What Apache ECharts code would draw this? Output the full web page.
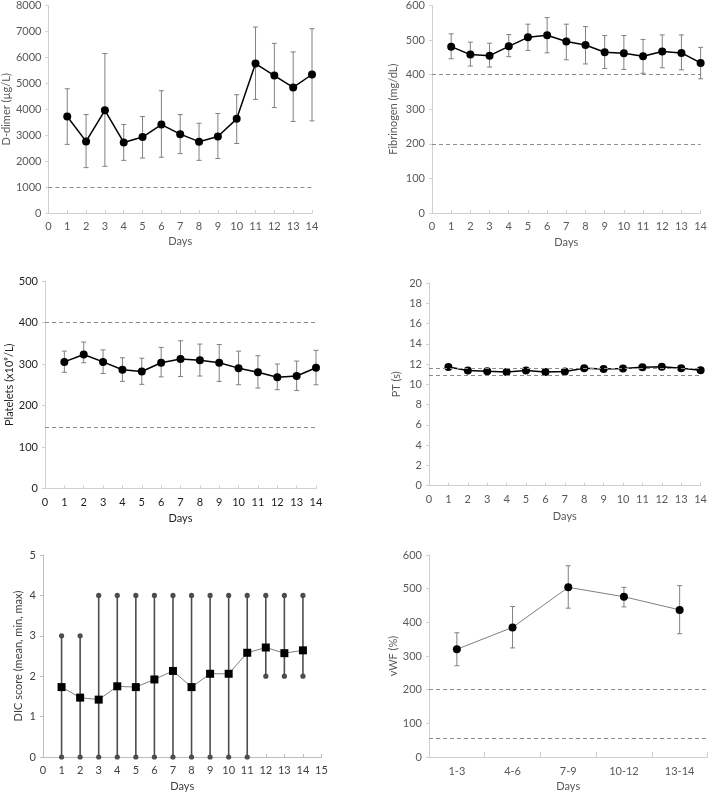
<!DOCTYPE html>
<html>
<head>
<meta charset="utf-8">
<script src="https://cdn.jsdelivr.net/npm/echarts@6/dist/echarts.min.js"></script>
<style>
html,body{margin:0;padding:0;background:#fff;}
#chart{width:710px;height:793px;}
</style>
</head>
<body>
<div id="chart"></div>
<script>
// ---------- data ----------
const days = [1,2,3,4,5,6,7,8,9,10,11,12,13,14];

const ddimerMean = [3720,2760,3960,2720,2930,3410,3040,2750,2950,3630,5760,5300,4840,5340];
const ddimerLow  = [2645,1750,1800,2030,2120,2150,2290,2030,2100,2680,4380,4065,3530,3550];
const ddimerHigh = [4790,3795,6150,3410,3720,4715,3795,3460,3835,4560,7170,6540,6210,7105];
const ddimerRef  = [1000];

const fibMean = [481,458,455,482,508,514,496,486,465,462,453,467,463,434];
const fibLow  = [446,425,422,452,470,463,443,431,418,415,404,420,414,388];
const fibHigh = [518,494,491,516,546,565,546,539,513,513,502,515,515,479];
const fibRef  = [400,200];

const pltMean = [305,323,305,286,282,303,312,309,303,290,280,268,271,291];
const pltLow  = [280,303,277,258,251,269,270,271,258,250,242,238,236,250];
const pltHigh = [331,353,334,315,314,340,356,348,347,331,320,300,307,333];
const pltRef  = [400,148];

const ptMean = [11.70,11.35,11.28,11.22,11.35,11.22,11.25,11.58,11.51,11.55,11.68,11.74,11.58,11.38];
const ptLow  = [11.50,11.20,11.15,11.10,11.20,11.10,11.10,11.40,11.35,11.35,11.45,11.55,11.45,11.25];
const ptHigh = [11.95,11.50,11.42,11.35,11.50,11.35,11.40,11.75,11.68,11.78,11.95,11.93,11.72,11.52];
const ptRef  = [11.6,10.9];

const dicMean = [1.73,1.47,1.42,1.75,1.73,1.92,2.13,1.73,2.06,2.06,2.58,2.71,2.57,2.64];
const dicMin  = [0,0,0,0,0,0,0,0,0,0,0,2,2,2];
const dicMax  = [3,3,4,4,4,4,4,4,4,4,4,4,4,4];

const vwfCats = ['1-3','4-6','7-9','10-12','13-14'];
const vwfMean = [320,385,504,476,437];
const vwfLow  = [271,324,442,446,366];
const vwfHigh = [369,447,568,504,509];
const vwfRef  = [200,55];

// ---------- helpers ----------
const FONT = 'Lato';
const FS = 11;
function pairs(xs, ys){ return xs.map((x,i)=>[x, ys[i]]); }
function triples(xs, a, b){ return xs.map((x,i)=>[x, a[i], b[i]]); }

function errBar(idx, data, color, cap){
  return {
    type:'custom', xAxisIndex:idx, yAxisIndex:idx, z:2,
    data:data,
    renderItem:function(params, api){
      const x = api.value(0);
      const lo = api.coord([x, api.value(1)]);
      const hi = api.coord([x, api.value(2)]);
      const st = {stroke:color, lineWidth:1};
      const ch = [
        {type:'line', shape:{x1:lo[0],y1:lo[1],x2:hi[0],y2:hi[1]}, style:st},
        {type:'line', shape:{x1:lo[0]-cap,y1:lo[1],x2:lo[0]+cap,y2:lo[1]}, style:st},
        {type:'line', shape:{x1:hi[0]-cap,y1:hi[1],x2:hi[0]+cap,y2:hi[1]}, style:st}
      ];
      return {type:'group', children:ch};
    },
    silent:true
  };
}

function rangeBar(idx, data, color){
  return {
    type:'custom', xAxisIndex:idx, yAxisIndex:idx, z:2,
    data:data,
    renderItem:function(params, api){
      const x = api.value(0);
      const lo = api.coord([x, api.value(1)]);
      const hi = api.coord([x, api.value(2)]);
      return {type:'group', children:[
        {type:'line', shape:{x1:lo[0],y1:lo[1],x2:hi[0],y2:hi[1]}, style:{stroke:color, lineWidth:1.6}},
        {type:'circle', shape:{cx:lo[0],cy:lo[1],r:2.6}, style:{fill:color}},
        {type:'circle', shape:{cx:hi[0],cy:hi[1],r:2.6}, style:{fill:color}}
      ]};
    },
    silent:true
  };
}

function refLines(idx, vals){
  return {
    type:'line', xAxisIndex:idx, yAxisIndex:idx, data:[], silent:true,
    markLine:{
      symbol:['none','none'], silent:true, label:{show:false},
      lineStyle:{color:'#8c8c8c', type:[4,3], width:1},
      animation:false,
      data: vals.map(v=>({yAxis:v}))
    }
  };
}

function meanLine(idx, data, opts){
  opts = opts || {};
  return {
    type:'line', xAxisIndex:idx, yAxisIndex:idx, z:3,
    data:data,
    symbol: opts.symbol || 'circle',
    symbolSize: opts.symbolSize || 8,
    itemStyle:{color:'#000'},
    lineStyle:{color: opts.lineColor || '#000', width: opts.lineWidth || 1.5},
    animation:false
  };
}

const plain = v => String(v);

function valX(idx, max, textColor, axisColor, nameGap){
  return {
    type:'value', gridIndex:idx, min:0, max:max, interval:1,
    name:'Days', nameLocation:'middle', nameGap:nameGap,
    nameTextStyle:{color:textColor, fontFamily:FONT, fontSize:FS},
    axisLine:{show:true, lineStyle:{color:axisColor, width:1}},
    axisTick:{show:true, inside:true, length:3, lineStyle:{color:axisColor}},
    axisLabel:{color:textColor, fontFamily:FONT, fontSize:FS, margin:8, showMaxLabel:true, showMinLabel:true, formatter:plain},
    splitLine:{show:false}
  };
}
function valY(idx, max, interval, name, textColor, axisColor, nameGap){
  return {
    type:'value', gridIndex:idx, min:0, max:max, interval:interval,
    name:name, nameLocation:'middle', nameGap:nameGap,
    nameTextStyle:{color:textColor, fontFamily:FONT, fontSize:FS},
    axisLine:{show:true, lineStyle:{color:axisColor, width:1}},
    axisTick:{show:true, length:3, lineStyle:{color:axisColor}},
    axisLabel:{color:textColor, fontFamily:FONT, fontSize:FS, margin:7, formatter:plain},
    splitLine:{show:false}
  };
}

const GREY = '#595959';
const AX = '#d0d0d0';
const DARK = '#1e1e1e';
const MID = '#404040';

const option = {
  animation:false,
  backgroundColor:'#fff',
  grid:[
    {left:45,  top:5,   width:267,   height:208},
    {left:432, top:5,   width:271.5, height:208},
    {left:45,  top:281, width:271,   height:207.5},
    {left:429, top:283, width:273.5, height:202.5},
    {left:43,  top:555, width:278.5, height:203},
    {left:429, top:555, width:278.5, height:203}
  ],
  xAxis:[
    valX(0,14,GREY,AX,23),
    valX(1,14,GREY,AX,24),
    valX(2,14,DARK,AX,24),
    valX(3,14,GREY,AX,25),
    valX(4,15,MID,'#bdbdbd',24),
    {
      type:'category', gridIndex:5, data:vwfCats, boundaryGap:true,
      name:'Days', nameLocation:'middle', nameGap:24,
      nameTextStyle:{color:GREY, fontFamily:FONT, fontSize:FS},
      axisLine:{show:true, lineStyle:{color:AX}},
      axisTick:{show:true, inside:true, length:5, alignWithLabel:false, lineStyle:{color:AX}},
      axisLabel:{color:GREY, fontFamily:FONT, fontSize:FS, margin:9}
    }
  ],
  yAxis:[
    valY(0,8000,1000,'D-dimer (µg/L)',GREY,AX,33),
    valY(1,600,100,'Fibrinogen (mg/dL)',GREY,AX,33),
    valY(2,500,100,'Platelets (x10⁹/L)',DARK,AX,30),
    valY(3,20,2,'PT (s)',GREY,AX,27),
    valY(4,5,1,'DIC score (mean, min, max)',MID,'#bdbdbd',19),
    valY(5,600,100,'vWF (%)',GREY,AX,28)
  ],
  series:[
    refLines(0, ddimerRef),
    errBar(0, triples(days, ddimerLow, ddimerHigh), '#808080', 2.5),
    meanLine(0, pairs(days, ddimerMean)),

    refLines(1, fibRef),
    errBar(1, triples(days, fibLow, fibHigh), '#808080', 2.5),
    meanLine(1, pairs(days, fibMean)),

    refLines(2, pltRef),
    errBar(2, triples(days, pltLow, pltHigh), '#808080', 2.5),
    meanLine(2, pairs(days, pltMean)),

    refLines(3, ptRef),
    errBar(3, triples(days, ptLow, ptHigh), '#808080', 2),
    meanLine(3, pairs(days, ptMean)),

    rangeBar(4, triples(days, dicMin, dicMax), '#4d4d4d'),
    meanLine(4, pairs(days, dicMean), {symbol:'rect', symbolSize:8, lineColor:'#7f7f7f', lineWidth:1}),

    refLines(5, vwfRef),
    errBar(5, triples(vwfCats.map((c,i)=>i), vwfLow, vwfHigh), '#808080', 2.5),
    meanLine(5, pairs(vwfCats.map((c,i)=>i), vwfMean), {lineColor:'#7f7f7f', lineWidth:1})
  ]
};

const chart = echarts.init(document.getElementById('chart'), null, {renderer:'canvas'});
chart.setOption(option);
</script>
</body>
</html>
